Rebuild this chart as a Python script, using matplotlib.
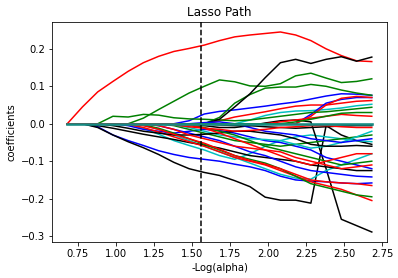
import matplotlib
matplotlib.use("Agg")
import matplotlib.pyplot as plt

# -Log(alpha) grid along the lasso path
neg_log_alpha = [0.68, 0.78, 0.88, 0.98, 1.08, 1.18, 1.28, 1.38, 1.48, 1.58, 1.68,
                 1.78, 1.88, 1.98, 2.08, 2.18, 2.28, 2.38, 2.48, 2.58, 2.68]

# chosen alpha (vertical dashed line)
alpha_cv = 1.56

# coefficient paths, grouped by the colour they are drawn in
blue_paths = [
    [0, 0, -0.008, -0.03, -0.045, -0.058, -0.072, -0.082, -0.09, -0.095, -0.1,
     -0.108, -0.115, -0.125, -0.14, -0.15, -0.153, -0.155, -0.158, -0.16, -0.158],
    [0, 0, 0, 0, 0, 0, 0, 0, 0.008, 0.026, 0.033,
     0.037, 0.042, 0.047, 0.053, 0.058, 0.066, 0.074, 0.08, 0.079, 0.076],
    [0, 0, 0, 0, 0, 0, 0, 0, 0, 0, 0,
     0, 0, 0, 0, 0, 0.025, 0.055, 0.065, 0.07, 0.07],
    [0, 0, 0, 0, -0.005, -0.015, -0.02, -0.025, -0.02, -0.015, -0.018,
     -0.025, -0.035, -0.045, -0.05, -0.06, -0.07, -0.09, -0.1, -0.11, -0.12],
    [0, 0, 0, 0, 0, 0, -0.005, -0.015, -0.025, -0.035, -0.045,
     -0.06, -0.075, -0.085, -0.1, -0.115, -0.125, -0.13, -0.135, -0.14, -0.142],
    [0, 0, 0, 0, 0, 0, 0, 0, 0, 0.003, 0.005,
     0.0, -0.01, -0.02, -0.025, -0.03, -0.04, -0.045, -0.05, -0.045, -0.04],
]

red_paths = [
    [0, 0.045, 0.085, 0.113, 0.14, 0.163, 0.18, 0.193, 0.201, 0.21, 0.222,
     0.232, 0.237, 0.241, 0.245, 0.237, 0.222, 0.2, 0.182, 0.168, 0.166],
    [0, 0, 0, 0, 0, 0, 0, 0, 0, 0, 0.008,
     0.018, 0.025, 0.032, 0.04, 0.047, 0.05, 0.05, 0.055, 0.06, 0.062],
    [0, 0, 0, 0, 0, 0, 0, 0, 0, 0, 0,
     0, 0, 0, 0, 0, 0.02, 0.05, 0.068, 0.073, 0.07],
    [0, 0, 0, 0, 0, 0, 0, 0, 0, 0, 0,
     0, 0, 0, 0.005, 0.01, 0.015, 0.02, 0.025, 0.022, 0.02],
    [0, 0, 0, 0, -0.002, -0.01, -0.022, -0.035, -0.048, -0.06, -0.075,
     -0.09, -0.1, -0.11, -0.125, -0.14, -0.155, -0.165, -0.175, -0.19, -0.205],
    [0, 0, 0, 0, 0, -0.005, -0.015, -0.028, -0.04, -0.052, -0.068,
     -0.085, -0.098, -0.108, -0.12, -0.135, -0.15, -0.155, -0.158, -0.16, -0.165],
    [0, 0, 0, 0, 0, 0, -0.005, -0.015, -0.03, -0.04, -0.05,
     -0.06, -0.065, -0.07, -0.075, -0.09, -0.1, -0.11, -0.12, -0.115, -0.11],
    [0, 0, 0, 0, 0, 0, 0, -0.003, -0.008, -0.012, -0.015,
     -0.02, -0.018, -0.015, -0.01, -0.008, -0.005, -0.005, -0.008, -0.01, -0.01],
    [0, 0, 0, 0, 0, 0, 0, 0, -0.004, -0.012, -0.025,
     -0.04, -0.055, -0.07, -0.085, -0.1, -0.11, -0.1, -0.09, -0.08, -0.08],
]

green_paths = [
    [0, 0, 0, 0, 0, 0.015, 0.038, 0.06, 0.082, 0.1, 0.117,
     0.112, 0.101, 0.1, 0.107, 0.128, 0.135, 0.122, 0.11, 0.113, 0.12],
    [0, 0, 0, 0, 0, 0, 0, 0, 0, 0, 0.017,
     0.055, 0.078, 0.095, 0.098, 0.098, 0.105, 0.1, 0.09, 0.082, 0.076],
    [0, 0, 0, 0.02, 0.018, 0.025, 0.023, 0.016, 0.013, 0.012, 0.01,
     0.008, 0.01, 0.015, 0.02, 0.025, 0.03, 0.032, 0.036, 0.04, 0.044],
    [0, 0, 0, 0, 0, 0, 0, -0.005, -0.015, -0.025, -0.035,
     -0.045, -0.05, -0.055, -0.06, -0.055, -0.05, -0.045, -0.04, -0.035, -0.03],
    [0, 0, 0, 0, 0, -0.003, -0.012, -0.025, -0.04, -0.055, -0.07,
     -0.085, -0.095, -0.105, -0.12, -0.14, -0.16, -0.17, -0.18, -0.19, -0.195],
    [0, 0, 0, 0, 0, 0, 0, 0, -0.003, -0.01, -0.02,
     -0.03, -0.045, -0.06, -0.07, -0.08, -0.09, -0.1, -0.11, -0.105, -0.1],
    [0, 0, 0, 0, 0, 0, 0, 0, 0, 0, 0,
     0, 0, 0, 0, 0.005, 0.012, 0.02, 0.028, 0.03, 0.03],
]

cyan_paths = [
    [0, 0, 0, 0, 0, 0, 0, 0, 0, 0, 0,
     0, 0.01, 0.022, 0.03, 0.034, 0.035, 0.038, 0.042, 0.048, 0.052],
    [0, 0, 0, 0, -0.002, -0.012, -0.028, -0.045, -0.058, -0.07, -0.085,
     -0.095, -0.08, -0.06, -0.045, -0.035, -0.03, -0.035, -0.04, -0.045, -0.048],
    [0, 0, 0, 0, 0, -0.004, -0.015, -0.03, -0.045, -0.06, -0.075,
     -0.09, -0.105, -0.12, -0.135, -0.145, -0.148, -0.125, -0.11, -0.095, -0.08],
    [0, 0, 0, 0, 0, 0, 0, -0.003, -0.01, -0.02, -0.03,
     -0.035, -0.04, -0.042, -0.045, -0.055, -0.065, -0.06, -0.05, -0.035, -0.02],
]

black_paths = [
    [0, 0, -0.01, -0.03, -0.048, -0.064, -0.082, -0.103, -0.12, -0.13, -0.138,
     -0.152, -0.168, -0.196, -0.204, -0.204, -0.212, -0.005, -0.03, -0.045, -0.055],
    [0, 0, 0, 0, 0, 0, 0, 0, 0, -0.005, -0.01,
     -0.01, -0.005, 0.002, 0.008, 0.01, 0.005, -0.12, -0.255, -0.272, -0.289],
    [0, 0, 0, 0, 0, 0, 0, 0, 0, 0, 0.012,
     0.045, 0.08, 0.123, 0.163, 0.172, 0.161, 0.172, 0.179, 0.167, 0.178],
    [0, 0, -0.005, -0.012, -0.02, -0.028, -0.035, -0.042, -0.05, -0.057, -0.065,
     -0.075, -0.085, -0.09, -0.095, -0.1, -0.11, -0.115, -0.12, -0.125, -0.125],
    [0, 0, 0, -0.005, -0.012, -0.02, -0.025, -0.03, -0.03, -0.028, -0.025,
     -0.02, -0.02, -0.025, -0.03, -0.04, -0.055, -0.06, -0.06, -0.058, -0.06],
    [0, 0, 0, 0, 0, 0, 0, 0, 0, 0, -0.003,
     -0.005, -0.005, -0.008, -0.01, -0.012, -0.01, -0.008, -0.006, -0.005, -0.005],
]

# coefficients that stay at zero along the whole path
zero_path = [0, 0, 0, 0, 0, 0, 0, 0, 0, 0, 0,
             0, 0, 0, 0, 0, 0, 0, 0, 0, 0]

groups = [('b', blue_paths), ('r', red_paths), ('g', green_paths),
          ('c', cyan_paths), ('k', black_paths)]

fig = plt.figure(figsize=(398 / 72, 278 / 72), dpi=72)
ax = fig.add_axes([0.1307, 0.1295, 0.8417, 0.7914])

# draw coefficients interleaved, like cycling through b, r, g, c, k
n_max = max(len(p) for _, p in groups)
for i in range(n_max):
    for color, paths in groups:
        if i < len(paths):
            ax.plot(neg_log_alpha, paths[i], c=color, lw=1.5)

# the many zero coefficients pile up into one thick teal line
ax.plot(neg_log_alpha, zero_path, c='#168a82', lw=2.6)

ax.axvline(alpha_cv, linestyle='--', color='k', lw=1.5)

ax.set_title('Lasso Path')
ax.set_xlabel('-Log(alpha)')
ax.set_ylabel('coefficients')

fig.savefig('out.png', dpi=72)
